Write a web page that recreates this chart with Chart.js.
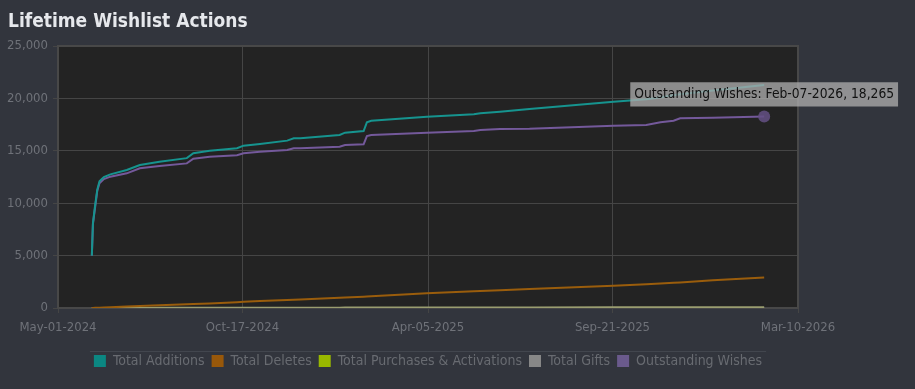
<!DOCTYPE html>
<html>
<head>
<meta charset="utf-8">
<title>Lifetime Wishlist Actions</title>
<script src="https://cdn.jsdelivr.net/npm/chart.js@4.4.1/dist/chart.umd.min.js"></script>
<style>
  html, body { margin: 0; padding: 0; background: #32353d; }
  #wrap { position: relative; width: 915px; height: 389px; }
  #wrap canvas { position: absolute; left: 0; top: 0; }
  h2 {
    position: absolute; left: 8px; top: 10px; margin: 0;
    font: bold 19px/20px "DejaVu Sans Condensed", "DejaVu Sans", sans-serif;
    color: #e6e8ec;
  }
</style>
</head>
<body>
<div id="wrap">
  <canvas id="wishlistChart" width="915" height="389"></canvas>
  <h2>Lifetime Wishlist Actions</h2>
</div>
<script>
// Days counted from May-01-2024
const days = [31, 32, 34, 36, 38, 42, 48, 63, 75, 93, 118, 124, 139, 164, 170, 185, 210, 216, 222, 258,
  263, 280, 283, 287, 338, 381, 387, 405, 432, 509, 539, 552, 564, 570, 600, 647];

const totalAdditions = [5000, 8100, 9800, 11300, 12100, 12500, 12750, 13170, 13650, 13960, 14300, 14760,
  15010, 15240, 15490, 15650, 15970, 16190, 16200, 16510, 16730, 16890, 17720, 17870, 18250, 18480,
  18580, 18730, 18990, 19690, 19910, 20100, 20300, 20400, 20750, 21280];

const totalDeletes = [0, 5, 15, 25, 35, 50, 70, 140, 190, 260, 360, 380, 440, 560, 600, 660, 760, 790,
  820, 980, 1000, 1080, 1090, 1110, 1400, 1600, 1630, 1700, 1820, 2130, 2260, 2330, 2400, 2440, 2650, 2920];

const totalPurchases = [0, 0, 1, 2, 3, 4, 5, 8, 10, 12, 15, 16, 18, 22, 23, 25, 28, 29, 30, 35, 36, 38,
  38, 39, 45, 50, 51, 53, 56, 65, 68, 70, 72, 73, 77, 82];

const totalGifts = [0, 0, 0, 0, 0, 0, 0, 1, 1, 1, 2, 2, 2, 3, 3, 3, 4, 4, 4, 5, 5, 5, 5, 5, 6, 7, 7, 7,
  8, 9, 9, 9, 10, 10, 10, 11];

const outstandingWishes = [5000, 8000, 9600, 11200, 11900, 12300, 12530, 12850, 13330, 13550, 13800,
  14250, 14440, 14570, 14760, 14920, 15080, 15240, 15240, 15390, 15550, 15620, 16410, 16510, 16730,
  16890, 16980, 17080, 17100, 17400, 17460, 17720, 17870, 18100, 18160, 18265];

const tickDays = [0, 169, 339, 508, 678];
const tickLabels = ["May-01-2024", "Oct-17-2024", "Apr-05-2025", "Sep-21-2025", "Mar-10-2026"];
const monthNames = ["Jan", "Feb", "Mar", "Apr", "May", "Jun", "Jul", "Aug", "Sep", "Oct", "Nov", "Dec"];

const FONT = '"DejaVu Sans Condensed", "DejaVu Sans", sans-serif';
const TEXT_GRAY = "#6f7279";
const GRID = "#454545";

function formatDay(d) {
  const dt = new Date(Date.UTC(2024, 4, 1 + d));
  return monthNames[dt.getUTCMonth()] + "-" + String(dt.getUTCDate()).padStart(2, "0") + "-" + dt.getUTCFullYear();
}

function points(values) {
  return days.map((d, i) => ({ x: d, y: values[i] }));
}

function series(label, values, line, box) {
  return {
    label: label,
    data: points(values),
    borderColor: line,
    backgroundColor: box,
    borderWidth: 2,
    pointRadius: 0,
    pointHoverRadius: 6,
    pointHoverBorderWidth: 0,
    pointHoverBackgroundColor: line,
    tension: 0,
    fill: false,
  };
}

// Plot background, frame and legend separator
const plotFrame = {
  id: "plotFrame",
  beforeDraw(chart) {
    const a = chart.chartArea;
    const ctx = chart.ctx;
    ctx.save();
    ctx.fillStyle = "#232323";
    ctx.fillRect(a.left, a.top, a.right - a.left, a.bottom - a.top);
    ctx.restore();
  },
  beforeDatasetsDraw(chart) {
    const a = chart.chartArea;
    const ctx = chart.ctx;
    ctx.save();
    ctx.strokeStyle = "#484848";
    ctx.lineWidth = 2;
    ctx.strokeRect(a.left, a.top, a.right - a.left, a.bottom - a.top);
    ctx.restore();
  },
  afterDraw(chart) {
    const boxes = chart.legend.legendHitBoxes;
    if (!boxes || !boxes.length) return;
    const first = boxes[0];
    const last = boxes[boxes.length - 1];
    const y = Math.round(chart.legend.top + 4) + 0.5;
    const ctx = chart.ctx;
    ctx.save();
    ctx.strokeStyle = "#42464e";
    ctx.lineWidth = 1;
    ctx.beginPath();
    ctx.moveTo(first.left - 4, y);
    ctx.lineTo(last.left + last.width + 4, y);
    ctx.stroke();
    ctx.restore();
  },
};

const ctx = document.getElementById("wishlistChart");
const chart = new Chart(ctx, {
  type: "line",
  data: {
    datasets: [
      series("Total Additions", totalAdditions, "#16948f", "#0b8782"),
      series("Total Deletes", totalDeletes, "#9a5d0c", "#98580a"),
      series("Total Purchases & Activations", totalPurchases, "#9a9d70", "#99b800"),
      series("Total Gifts", totalGifts, "#858585", "#878787"),
      Object.assign(series("Outstanding Wishes", outstandingWishes, "#74599b", "#6a5a8c"), {
        pointHoverBackgroundColor: "rgba(100,80,132,0.85)",
      }),
    ],
  },
  options: {
    responsive: false,
    animation: false,
    events: [],
    layout: {
      padding: { top: 46, right: 117, bottom: 11, left: 0 },
    },
    scales: {
      x: {
        type: "linear",
        min: 0,
        max: 678,
        afterBuildTicks: (scale) => {
          scale.ticks = tickDays.map((v) => ({ value: v }));
        },
        afterFit: (scale) => {
          scale.height = 39;
        },
        ticks: {
          autoSkip: false,
          maxRotation: 0,
          padding: 7,
          color: TEXT_GRAY,
          font: { family: FONT, size: 13 },
          callback: (value, index) => tickLabels[index],
        },
        grid: { color: GRID, tickLength: 5 },
        border: { display: false },
      },
      y: {
        min: 0,
        max: 25000,
        afterFit: (scale) => {
          scale.width = 58;
        },
        ticks: {
          stepSize: 5000,
          padding: 5,
          color: TEXT_GRAY,
          font: { family: FONT, size: 13 },
          callback: (value) => value.toLocaleString("en-US"),
        },
        grid: { color: GRID, tickLength: 5 },
        border: { display: false },
      },
    },
    plugins: {
      legend: {
        position: "bottom",
        fullSize: false,
        labels: {
          boxWidth: 12,
          boxHeight: 12,
          padding: 7,
          color: "#686b71",
          font: { family: FONT, size: 14 },
          generateLabels: (c) =>
            Chart.defaults.plugins.legend.labels.generateLabels(c).map((l) => Object.assign(l, { lineWidth: 0 })),
        },
      },
      tooltip: {
        backgroundColor: "rgba(170,170,170,0.78)",
        bodyColor: "#111111",
        bodyFont: { family: FONT, size: 13.7 },
        padding: { x: 4, y: 4 },
        cornerRadius: 0,
        caretSize: 0,
        caretPadding: 10,
        displayColors: false,
        xAlign: "center",
        yAlign: "bottom",
        callbacks: {
          title: () => "",
          label: (item) =>
            item.dataset.label + ": " + formatDay(item.parsed.x) + ", " + item.parsed.y.toLocaleString("en-US"),
        },
      },
    },
  },
  plugins: [plotFrame],
});

// Show the hover state on the last Outstanding Wishes point
const lastIndex = days.length - 1;
const active = [{ datasetIndex: 4, index: lastIndex }];
const pt = chart.getDatasetMeta(4).data[lastIndex];
chart.setActiveElements(active);
chart.tooltip.setActiveElements(active, { x: pt.x, y: pt.y });
chart.draw();
</script>
</body>
</html>
